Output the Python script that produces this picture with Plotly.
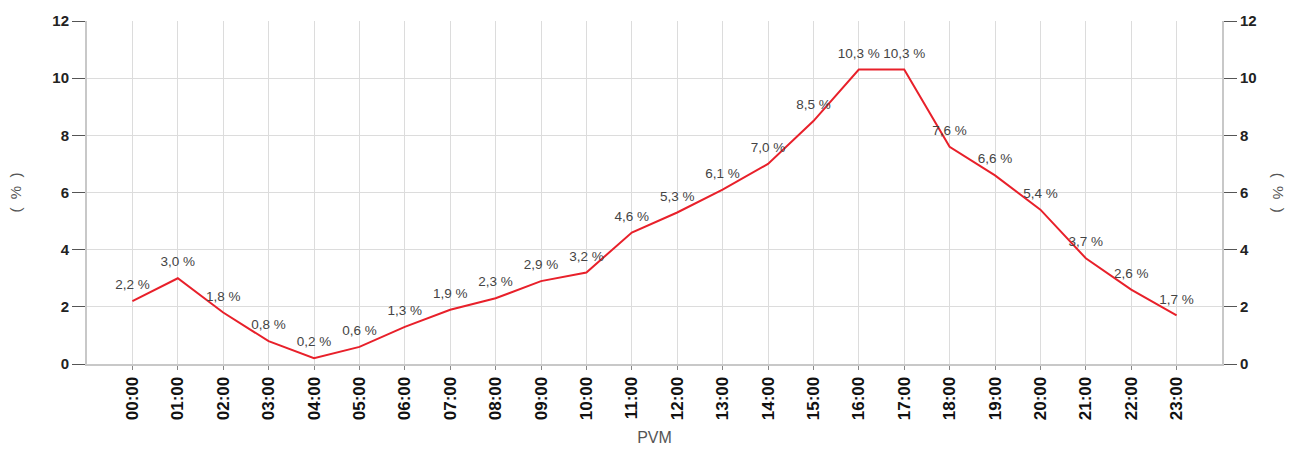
import plotly.graph_objects as go

hours = ["%02d:00" % h for h in range(24)]
share = [2.2, 3.0, 1.8, 0.8, 0.2, 0.6, 1.3, 1.9, 2.3, 2.9, 3.2, 4.6,
         5.3, 6.1, 7.0, 8.5, 10.3, 10.3, 7.6, 6.6, 5.4, 3.7, 2.6, 1.7]
labels = [("%.1f" % v).replace(".", ",") + " %" for v in share]

fig = go.Figure()
fig.add_trace(go.Scatter(x=hours, y=share, mode="lines+markers+text", text=labels,
                         textposition="top center",
                         textfont=dict(size=13.5, color="#444", family="Liberation Sans"),
                         marker=dict(size=12, color="rgba(0,0,0,0)"),
                         line=dict(color="#e8202a", width=2),
                         cliponaxis=False, hoverinfo="x+y"))
# invisible trace so the right axis is drawn
fig.add_trace(go.Scatter(x=hours, y=share, yaxis="y2", mode="lines",
                         line=dict(width=0), opacity=0, hoverinfo="skip"))

axis_common = dict(range=[0, 12], dtick=2, showgrid=True, gridcolor="#dcdcdc",
                   showline=True, linecolor="#c8c8c8", linewidth=2,
                   ticks="outside", ticklen=13, tickcolor="#555",
                   tickfont=dict(size=15, color="#222", family="Liberation Sans", weight="bold"),
                   zeroline=False, automargin=False)

# figure sized to fit inside the page's 8px body margin
fig.update_layout(
    width=1284, height=438,
    margin=dict(l=79, r=70, t=13, b=82),
    plot_bgcolor="white", paper_bgcolor="white",
    font=dict(family="Liberation Sans"),
    showlegend=False,
    xaxis=dict(range=[-1, 24], tickangle=-90, showgrid=True, gridcolor="#dcdcdc",
               showline=True, linecolor="#c8c8c8", linewidth=2,
               ticks="outside", ticklen=4, tickcolor="#888", automargin=False,
               tickfont=dict(size=17, color="#111", family="Liberation Sans", weight="bold"),
               title=dict(text="PVM", font=dict(size=16, color="#555"))),
    yaxis=dict(axis_common, side="left"),
    yaxis2=dict(axis_common, side="right", overlaying="y", showgrid=False),
    annotations=[
        dict(text="(  %  )", xref="paper", yref="paper", x=-0.0634, y=0.5, showarrow=False,
             xanchor="center", yanchor="middle",
             textangle=-90, font=dict(size=15, color="#555")),
        dict(text="(  %  )", xref="paper", yref="paper", x=1.05, y=0.5, showarrow=False,
             xanchor="center", yanchor="middle",
             textangle=90, font=dict(size=15, color="#555")),
    ],
)

fig.write_html("out.html")
